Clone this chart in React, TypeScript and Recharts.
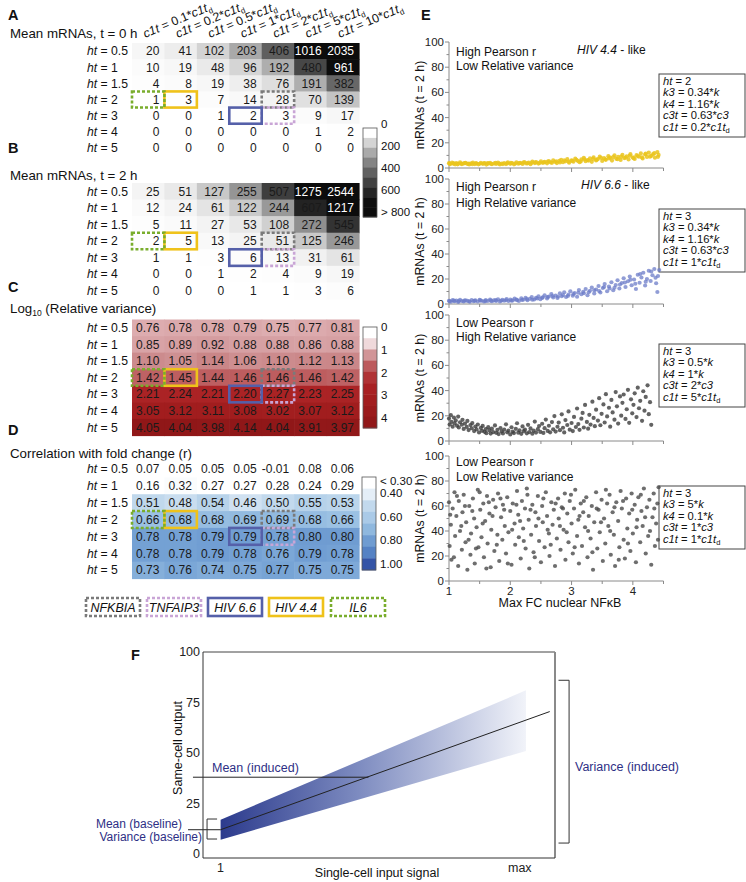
import React from 'react';
import {
  ScatterChart, Scatter, XAxis, YAxis, ComposedChart, Area, Line, ReferenceLine, Customized,
} from 'recharts';

const W = 746;
const H = 882;
const FONT = "'Liberation Sans', Arial, Helvetica, sans-serif";
const NAVY = '#2e2f85';

// ---------------- heatmap data ----------------
const columnFactors = ['0.1', '0.2', '0.5', '1', '2', '5', '10'];
const htValues = ['0.5', '1', '1.5', '2', '3', '4', '5'];

const meanMRNA_t0 = [
  [20, 41, 102, 203, 406, 1016, 2035],
  [10, 19, 48, 96, 192, 480, 961],
  [4, 8, 19, 38, 76, 191, 382],
  [1, 3, 7, 14, 28, 70, 139],
  [0, 0, 1, 2, 3, 9, 17],
  [0, 0, 0, 0, 0, 1, 2],
  [0, 0, 0, 0, 0, 0, 0],
];
const meanMRNA_t2 = [
  [25, 51, 127, 255, 507, 1275, 2544],
  [12, 24, 61, 122, 244, 607, 1217],
  [5, 11, 27, 53, 108, 272, 545],
  [2, 5, 13, 25, 51, 125, 246],
  [1, 1, 3, 6, 13, 31, 61],
  [0, 0, 1, 2, 4, 9, 19],
  [0, 0, 0, 1, 1, 3, 6],
];
const log10RelVar = [
  [0.76, 0.78, 0.78, 0.79, 0.75, 0.77, 0.81],
  [0.85, 0.89, 0.92, 0.88, 0.88, 0.86, 0.88],
  [1.10, 1.05, 1.14, 1.06, 1.10, 1.12, 1.13],
  [1.42, 1.45, 1.44, 1.46, 1.46, 1.46, 1.42],
  [2.21, 2.24, 2.21, 2.20, 2.27, 2.23, 2.25],
  [3.05, 3.12, 3.11, 3.08, 3.02, 3.07, 3.12],
  [4.05, 4.04, 3.98, 4.14, 4.04, 3.91, 3.97],
];
const corrWithFC = [
  [0.07, 0.05, 0.05, 0.05, -0.01, 0.08, 0.06],
  [0.16, 0.32, 0.27, 0.27, 0.28, 0.24, 0.29],
  [0.51, 0.48, 0.54, 0.46, 0.50, 0.55, 0.53],
  [0.66, 0.68, 0.68, 0.69, 0.69, 0.68, 0.66],
  [0.78, 0.78, 0.79, 0.79, 0.78, 0.80, 0.80],
  [0.78, 0.78, 0.79, 0.78, 0.76, 0.79, 0.78],
  [0.73, 0.76, 0.74, 0.75, 0.77, 0.75, 0.75],
];

const geneMarkers = [
  { c: 4, r: 3, gene: 'NFKBIA' },
  { c: 4, r: 4, gene: 'TNFAIP3' },
  { c: 3, r: 4, gene: 'HIV 6.6' },
  { c: 1, r: 3, gene: 'HIV 4.4' },
  { c: 0, r: 3, gene: 'IL6' },
];
const legendGenes = ['NFKBIA', 'TNFAIP3', 'HIV 6.6', 'HIV 4.4', 'IL6'];

const grayBarSegments = [0, 100, 200, 300, 400, 500, 600, 700, 800];
const grayBarTicks = [0, 200, 400, 600, 800];
const grayBarLabels = ['0', '200', '400', '600', '> 800'];
const redBarSegments = [0, 0.5, 1, 1.5, 2, 2.5, 3, 3.5, 4];
const redBarTicks = [0, 1, 2, 3, 4];
const redBarLabels = ['0', '1', '2', '3', '4'];
const blueBarSegments = [0.3, 0.4, 0.5, 0.6, 0.7, 0.8, 0.9, 1.0];
const blueBarTicks = [0.3, 0.4, 0.6, 0.8, 1.0];
const blueBarLabels = ['< 0.30', '0.40', '0.60', '0.80', '1.00'];

// ---------------- scatter data (panel E) ----------------
const hiv44Like: [number, number][] = [
  [1.00, 3.8], [1.02, 3.1], [1.05, 4.2], [1.07, 3.4], [1.10, 2.9], [1.12, 3.9], [1.15, 3.3], [1.18, 4.4], [1.21, 3.0], [1.24, 3.6],
  [1.27, 4.1], [1.30, 3.2], [1.33, 2.8], [1.36, 3.7], [1.39, 4.3], [1.42, 3.1], [1.45, 3.5], [1.48, 2.9], [1.52, 4.0], [1.55, 3.3],
  [1.58, 3.8], [1.61, 2.7], [1.64, 3.4], [1.67, 4.1], [1.70, 3.0], [1.74, 3.6], [1.77, 3.2], [1.80, 4.2], [1.83, 2.8], [1.86, 3.5],
  [1.90, 3.9], [1.93, 3.1], [1.96, 4.4], [2.00, 3.3], [2.03, 3.8], [2.06, 2.9], [2.10, 4.5], [2.13, 3.4], [2.16, 4.0], [2.20, 3.2],
  [2.23, 4.7], [2.26, 3.6], [2.30, 4.2], [2.33, 3.0], [2.36, 5.0], [2.40, 3.9], [2.43, 4.4], [2.46, 3.5], [2.50, 5.2], [2.53, 4.1],
  [2.56, 4.8], [2.60, 3.7], [2.63, 5.5], [2.66, 4.4], [2.70, 6.0], [2.73, 4.9], [2.76, 3.9], [2.80, 5.6], [2.83, 6.4], [2.86, 4.6],
  [2.90, 5.3], [2.93, 7.0], [2.96, 4.2], [3.00, 6.1], [3.03, 5.0], [3.06, 7.4], [3.10, 5.7], [3.13, 4.6], [3.16, 6.8], [3.20, 8.0],
  [3.23, 5.4], [3.26, 6.3], [3.30, 7.6], [3.33, 4.9], [3.36, 8.4], [3.40, 6.0], [3.43, 7.1], [3.46, 9.0], [3.50, 5.6], [3.53, 7.8],
  [3.56, 6.5], [3.60, 9.4], [3.63, 8.2], [3.66, 5.9], [3.70, 10.0], [3.73, 7.3], [3.76, 8.8], [3.80, 6.4], [3.83, 10.4], [3.86, 7.9],
  [3.90, 9.2], [3.93, 6.8], [3.96, 11.0], [4.00, 8.5], [4.03, 7.2], [4.06, 10.2], [4.10, 9.0], [4.13, 11.6], [4.16, 7.6], [4.20, 10.8],
  [4.23, 8.8], [4.26, 12.2], [4.30, 9.6], [4.33, 11.0], [4.36, 8.2], [4.40, 12.6], [4.42, 10.4],
  [1.01, 3.4], [1.08, 3.7], [1.14, 2.9], [1.20, 3.5], [1.26, 3.9], [1.32, 3.4], [1.38, 3.0], [1.44, 3.9], [1.50, 3.3], [1.57, 3.6],
  [1.63, 3.9], [1.69, 3.3], [1.76, 4.0], [1.82, 3.4], [1.88, 3.1], [1.95, 3.7], [2.01, 4.1], [2.08, 3.5], [2.15, 3.8], [2.21, 4.3],
  [2.28, 3.7], [2.35, 4.1], [2.41, 4.6], [2.48, 4.0], [2.55, 4.4], [2.61, 5.0], [2.68, 4.1], [2.75, 5.2], [2.81, 4.4], [2.88, 6.0],
  [2.95, 5.1], [3.01, 5.6], [3.08, 6.4], [3.15, 5.2], [3.21, 6.9], [3.28, 5.9], [3.35, 7.2], [3.41, 6.6], [3.48, 8.1], [3.55, 6.9],
  [3.61, 7.6], [3.68, 8.6], [3.75, 7.0], [3.81, 9.0], [3.88, 8.2], [3.95, 9.8], [4.01, 7.8], [4.08, 9.5], [4.15, 8.4], [4.21, 11.4],
  [4.28, 9.0], [4.35, 11.8], [4.41, 8.9],
];
const hiv66Like: [number, number][] = [
  [1.00, 2.6], [1.03, 1.9], [1.06, 3.1], [1.09, 2.2], [1.12, 2.8], [1.15, 1.7], [1.18, 3.3], [1.21, 2.4], [1.24, 2.0], [1.27, 3.0],
  [1.30, 2.5], [1.34, 1.8], [1.37, 3.2], [1.40, 2.3], [1.43, 2.9], [1.47, 2.0], [1.50, 3.4], [1.53, 2.6], [1.57, 2.1], [1.60, 3.1],
  [1.63, 2.4], [1.67, 3.6], [1.70, 2.2], [1.73, 2.9], [1.77, 2.5], [1.80, 3.8], [1.83, 2.1], [1.87, 3.3], [1.90, 2.7], [1.94, 4.0],
  [1.97, 2.4], [2.00, 3.5], [2.04, 2.9], [2.07, 4.3], [2.11, 3.1], [2.14, 2.5], [2.18, 4.6], [2.21, 3.4], [2.25, 5.0], [2.28, 3.0],
  [2.32, 4.2], [2.35, 5.6], [2.39, 3.6], [2.42, 4.9], [2.46, 6.2], [2.49, 3.9], [2.53, 5.4], [2.56, 7.0], [2.60, 4.5], [2.63, 6.0],
  [2.67, 8.0], [2.70, 5.2], [2.74, 6.8], [2.77, 4.8], [2.81, 8.6], [2.84, 6.2], [2.88, 9.4], [2.91, 5.6], [2.95, 7.6], [2.98, 10.2],
  [3.02, 6.6], [3.05, 8.8], [3.09, 5.8], [3.12, 11.2], [3.16, 7.8], [3.19, 9.8], [3.23, 12.0], [3.26, 7.0], [3.30, 10.6], [3.33, 13.2],
  [3.37, 8.4], [3.40, 11.6], [3.44, 14.4], [3.47, 9.2], [3.51, 12.8], [3.54, 16.0], [3.58, 10.2], [3.61, 14.0], [3.65, 17.4], [3.68, 11.0],
  [3.72, 15.2], [3.75, 19.0], [3.78, 12.4], [3.82, 16.8], [3.85, 20.6], [3.88, 13.6], [3.92, 18.2], [3.95, 22.0], [3.98, 15.0], [4.02, 19.6],
  [4.05, 12.0], [4.08, 23.4], [4.11, 17.0], [4.14, 21.2], [4.17, 25.0], [4.20, 14.8], [4.23, 20.0], [4.26, 26.6], [4.29, 18.4], [4.32, 23.0],
  [4.35, 28.0], [4.38, 16.6], [4.40, 9.6], [4.41, 22.4], [4.43, 27.2],
  [1.01, 2.2], [1.08, 2.7], [1.16, 2.3], [1.25, 2.7], [1.33, 2.2], [1.42, 2.6], [1.51, 2.9], [1.59, 2.3], [1.68, 2.7], [1.76, 3.1],
  [1.85, 2.6], [1.93, 3.0], [2.02, 2.6], [2.10, 3.6], [2.19, 3.2], [2.27, 4.0], [2.36, 3.4], [2.44, 4.4], [2.52, 4.8], [2.61, 5.6],
  [2.69, 6.4], [2.78, 6.0], [2.86, 7.2], [2.94, 6.4], [3.03, 8.0], [3.11, 9.0], [3.20, 8.6], [3.28, 9.4], [3.37, 11.0], [3.45, 10.4],
  [3.53, 13.6], [3.62, 12.4], [3.70, 13.0], [3.79, 15.6], [3.87, 17.2], [3.96, 19.4], [4.04, 16.2], [4.12, 24.0], [4.21, 17.8], [4.30, 26.0],
  [4.37, 21.0],
];
const lowRHighVar: [number, number][] = [
  [1.00, 17.8], [1.01, 13.0], [1.03, 20.5], [1.04, 15.2], [1.06, 11.4], [1.08, 18.6], [1.09, 14.0], [1.11, 16.3], [1.13, 12.2], [1.15, 19.4],
  [1.16, 10.8], [1.18, 14.9], [1.21, 12.9], [1.22, 16.8], [1.24, 9.6], [1.26, 13.8], [1.29, 11.2], [1.30, 15.9], [1.32, 8.7], [1.35, 12.6],
  [1.37, 10.1], [1.38, 14.2], [1.41, 7.9], [1.43, 11.5], [1.45, 9.2], [1.47, 13.1], [1.49, 6.8], [1.52, 10.4], [1.54, 8.1], [1.55, 12.0],
  [1.58, 7.3], [1.60, 9.5], [1.61, 6.2], [1.64, 11.0], [1.66, 8.4], [1.68, 5.9], [1.70, 9.8], [1.72, 7.0], [1.75, 12.4], [1.77, 6.5],
  [1.79, 8.8], [1.81, 5.5], [1.84, 10.3], [1.86, 7.6], [1.88, 6.0], [1.90, 9.1], [1.93, 13.2], [1.95, 6.9], [1.97, 8.2], [2.00, 5.2],
  [2.02, 10.9], [2.04, 7.4], [2.06, 6.3], [2.09, 9.7], [2.11, 14.1], [2.13, 6.6], [2.15, 8.5], [2.18, 5.7], [2.20, 11.6], [2.22, 7.8],
  [2.24, 9.0], [2.27, 6.1], [2.29, 12.8], [2.31, 7.1], [2.33, 10.0], [2.36, 5.8], [2.38, 8.3], [2.40, 15.4], [2.42, 6.7], [2.45, 9.4],
  [2.47, 11.9], [2.49, 7.2], [2.52, 13.7], [2.54, 6.4], [2.56, 10.2], [2.58, 17.0], [2.61, 8.0], [2.63, 12.1], [2.65, 6.9], [2.68, 15.0],
  [2.70, 9.3], [2.72, 19.8], [2.74, 7.5], [2.77, 11.3], [2.79, 14.6], [2.81, 8.6], [2.84, 21.2], [2.86, 10.5], [2.88, 6.8], [2.90, 16.6],
  [2.93, 12.7], [2.95, 23.5], [2.97, 9.0], [3.00, 14.3], [3.02, 7.9], [3.04, 19.1], [3.07, 11.1], [3.09, 25.8], [3.11, 13.4], [3.13, 8.9],
  [3.16, 17.7], [3.18, 22.3], [3.20, 10.7], [3.22, 28.6], [3.25, 15.1], [3.27, 9.8], [3.29, 20.8], [3.31, 13.0], [3.34, 31.2], [3.36, 18.3],
  [3.38, 11.8], [3.40, 24.9], [3.43, 16.2], [3.45, 34.0], [3.47, 12.5], [3.49, 21.6], [3.52, 29.0], [3.54, 14.7], [3.56, 37.2], [3.58, 19.5],
  [3.61, 26.4], [3.63, 11.4], [3.65, 32.6], [3.67, 22.7], [3.70, 16.9], [3.72, 38.8], [3.74, 27.5], [3.76, 13.8], [3.79, 35.4], [3.81, 20.1],
  [3.83, 30.3], [3.85, 36.9], [3.88, 17.5], [3.90, 25.2], [3.92, 40.6], [3.94, 14.4], [3.97, 33.1], [3.99, 22.0], [4.01, 28.7], [4.03, 37.8],
  [4.06, 19.0], [4.08, 42.3], [4.10, 26.0], [4.12, 31.9], [4.15, 16.0], [4.17, 39.5], [4.19, 24.1], [4.21, 35.0], [4.24, 44.2], [4.26, 21.3],
  [4.28, 30.8], [4.30, 12.8],
];
const lowRLowVar: [number, number][] = [
  [1.00, 63], [1.01, 28], [1.03, 45], [1.04, 17], [1.06, 58], [1.09, 71], [1.10, 36], [1.12, 52], [1.15, 12], [1.16, 64],
  [1.18, 40], [1.21, 25], [1.22, 55], [1.24, 69], [1.27, 31], [1.28, 47], [1.30, 9], [1.33, 60], [1.35, 21], [1.36, 38],
  [1.39, 66], [1.41, 50], [1.42, 14], [1.45, 43], [1.47, 73], [1.48, 27], [1.51, 57], [1.53, 35], [1.56, 62], [1.57, 19],
  [1.59, 48], [1.62, 68], [1.63, 30], [1.66, 54], [1.68, 11], [1.69, 41], [1.72, 65], [1.74, 24], [1.76, 59], [1.79, 37],
  [1.80, 70], [1.82, 16], [1.85, 51], [1.87, 33], [1.88, 61], [1.91, 44], [1.93, 22], [1.95, 67], [1.97, 39], [2.00, 56],
  [2.02, 13], [2.04, 62], [2.07, 46], [2.08, 29], [2.11, 72], [2.13, 53], [2.14, 35], [2.17, 18], [2.19, 64], [2.21, 42],
  [2.24, 58], [2.25, 26], [2.28, 69], [2.30, 49], [2.31, 10], [2.34, 37], [2.36, 61], [2.38, 23], [2.41, 55], [2.42, 44],
  [2.45, 68], [2.47, 32], [2.50, 15], [2.52, 60], [2.53, 47], [2.56, 27], [2.58, 71], [2.60, 52], [2.63, 38], [2.64, 20],
  [2.67, 63], [2.69, 45], [2.71, 57], [2.73, 12], [2.76, 34], [2.78, 66], [2.79, 50], [2.82, 25], [2.84, 59], [2.87, 41],
  [2.89, 70], [2.90, 17], [2.93, 54], [2.95, 31], [2.97, 64], [3.00, 46], [3.02, 22], [3.04, 58], [3.06, 73], [3.09, 36],
  [3.11, 49], [3.12, 14], [3.15, 62], [3.17, 28], [3.19, 55], [3.22, 43], [3.24, 67], [3.26, 19], [3.28, 52], [3.31, 34],
  [3.33, 60], [3.35, 9], [3.37, 47], [3.40, 71], [3.42, 26], [3.44, 57], [3.46, 39], [3.49, 65], [3.51, 16], [3.53, 50],
  [3.55, 30], [3.58, 62], [3.60, 44], [3.62, 69], [3.64, 21], [3.67, 55], [3.69, 37], [3.71, 12], [3.73, 63], [3.76, 48],
  [3.78, 27], [3.80, 72], [3.82, 58], [3.85, 33], [3.87, 18], [3.89, 66], [3.91, 42], [3.94, 54], [3.96, 24], [3.98, 70],
  [4.00, 38], [4.03, 61], [4.05, 15], [4.07, 49], [4.09, 67], [4.12, 31], [4.14, 56], [4.16, 44], [4.18, 74], [4.21, 22],
  [4.23, 59], [4.25, 36], [4.27, 65], [4.30, 13], [4.32, 51], [4.34, 70], [4.36, 28], [4.38, 46], [4.40, 62], [4.42, 75],
  [1.02, 53], [1.08, 19], [1.13, 68], [1.20, 44], [1.26, 60], [1.32, 33], [1.38, 56], [1.44, 26], [1.50, 71], [1.55, 46],
  [1.61, 10], [1.65, 63], [1.71, 52], [1.78, 29], [1.84, 66], [1.90, 57], [1.96, 14], [2.03, 41], [2.10, 61], [2.16, 48],
  [2.22, 32], [2.27, 74], [2.33, 57], [2.40, 19], [2.46, 50], [2.54, 66], [2.61, 41], [2.66, 29], [2.74, 62], [2.81, 44],
  [2.86, 58], [2.92, 39], [2.99, 69], [3.05, 27], [3.13, 52], [3.20, 64], [3.27, 40], [3.34, 23], [3.41, 58], [3.48, 47],
  [3.56, 73], [3.63, 40], [3.70, 59], [3.77, 17], [3.84, 64], [3.92, 30], [3.99, 57], [4.06, 43], [4.13, 69], [4.20, 51],
  [4.28, 40], [4.35, 58], [4.41, 33],
];

const eXTicks = [1, 1.5, 2, 2.5, 3, 3.5, 4, 4.5];
const eYTicks = [0, 10, 20, 30, 40, 50, 60, 70, 80, 90, 100];

const scatterTitles = [
  ['High Pearson r', 'Low Relative variance'],
  ['High Pearson r', 'High Relative variance'],
  ['Low Pearson r', 'High Relative variance'],
  ['Low Pearson r', 'Low Relative variance'],
];
const scatterTags = ['HIV 4.4', 'HIV 6.6', '', ''];
const paramSets = [
  { ht: '2', k3: '0.34', k4: '1.16', c3t: '0.63', c1t: '0.2' },
  { ht: '3', k3: '0.34', k4: '1.16', c3t: '0.63', c1t: '1' },
  { ht: '3', k3: '0.5', k4: '1', c3t: '2', c1t: '5' },
  { ht: '3', k3: '5', k4: '0.1', c3t: '1', c1t: '1' },
];

// ---------------- schematic (panel F) ----------------
const fData = [
  { x: 1, band: [7, 17], y: 12 },
  { x: 18.35, band: [51, 81] },
  { x: 19.7, y: 70.5 },
];
const fXTicks = [1, 18];
const fXLabels = ['1', 'max'];
const fYTicks = [0, 25, 50, 75, 100];
const meanInduced = 38;
const meanBaseline = 12;

// ---------------- styles ----------------
const GENE_STYLE: Record<string, { color: string; dash?: string }> = {
  NFKBIA: { color: '#7a7a7a', dash: '3 2' },
  TNFAIP3: { color: '#c9a5d6', dash: '3 2' },
  'HIV 6.6': { color: '#5560a9' },
  'HIV 4.4': { color: '#efc21a' },
  IL6: { color: '#79ad2c', dash: '3 2' },
};

function hexToRgb(h: string) {
  const n = parseInt(h.slice(1), 16);
  return [(n >> 16) & 255, (n >> 8) & 255, n & 255];
}
function interp(stops: [number, string][], v: number) {
  if (v <= stops[0][0]) return stops[0][1];
  for (let i = 1; i < stops.length; i++) {
    if (v <= stops[i][0]) {
      const [v0, c0] = stops[i - 1];
      const [v1, c1] = stops[i];
      const t = (v - v0) / (v1 - v0);
      const a = hexToRgb(c0);
      const b = hexToRgb(c1);
      return `rgb(${a.map((x, k) => Math.round(x + (b[k] - x) * t)).join(',')})`;
    }
  }
  return stops[stops.length - 1][1];
}
const grayFill = (v: number) => {
  if (v >= 800) return '#0c0c0c';
  const g = Math.round(255 * Math.pow(1 - v / 800, 1.4));
  return `rgb(${g},${g},${g})`;
};
const RED_STOPS: [number, string][] = [
  [0, '#ffffff'], [0.5, '#efd9db'], [0.77, '#dcaaad'], [0.9, '#d59ea1'], [1.1, '#cc8b8d'],
  [1.45, '#bd5e60'], [2.2, '#ab2325'], [3.1, '#a11d1e'], [4.1, '#8f1718'],
];
const BLUE_STOPS: [number, string][] = [
  [0.3, '#ffffff'], [0.4, '#e4eef7'], [0.5, '#c2d9ed'], [0.67, '#99c0e2'], [0.78, '#74a1d4'],
  [0.9, '#5582c4'], [1.0, '#3454a6'],
];
const redFill = (v: number) => interp(RED_STOPS, v);
const blueFill = (v: number) => interp(BLUE_STOPS, v);

// ---------------- shared pieces ----------------
const HM_LEFT = 132;
const HM_RIGHT = 359;
const ROWS = [0, 1, 2, 3, 4, 5, 6];

const rowTick = (p: any) => (
  <text x={87} y={p.y + 4.3} fontSize={12.2} fill="#111" style={{ whiteSpace: 'pre' }}>
    <tspan fontStyle="italic">ht</tspan>{` = ${htValues[p.payload.value]}`}
  </text>
);
const headerTick = (p: any) => (
  <text transform={`translate(${p.x - 3},38) rotate(-23)`} fontSize={12.3} fill="#111" style={{ whiteSpace: 'pre' }}>
    <tspan fontStyle="italic">c1t</tspan>{` = ${columnFactors[p.payload.value]}*`}
    <tspan fontStyle="italic">c1t</tspan>
    <tspan fontSize={8} dy={3}>d</tspan>
  </text>
);

function ColorBar({ x, top, bottom, segs, color, ticks, labels, v0, y0, v1, y1 }: any) {
  const h = (bottom - top) / segs.length;
  return (
    <g>
      {segs.map((v: number, i: number) => (
        <rect key={i} x={x} y={top + i * h} width={14} height={h + 0.4} fill={color(v)} />
      ))}
      <rect x={x} y={top} width={14} height={bottom - top} fill="none" stroke="#555" strokeWidth={0.8} />
      {ticks.map((v: number, i: number) => (
        <text key={i} x={x + 18} y={y0 + ((v - v0) / (v1 - v0)) * (y1 - y0) + 4} fontSize={11.5} fill="#111">
          {labels[i]}
        </text>
      ))}
    </g>
  );
}

function Heatmap({ values, top, bottom, fill, fmt, ink, headers, overlay }: any) {
  const cw = (HM_RIGHT - HM_LEFT) / 7;
  const ch = (bottom - top) / 7;
  const cells = values.flatMap((row: number[], r: number) => row.map((v, c) => ({ c, r, v })));
  const cellShape = (p: any) => {
    const { cx, cy, payload } = p;
    return (
      <g>
        <rect x={cx - cw / 2} y={cy - ch / 2} width={cw + 0.6} height={ch + 0.6} fill={fill(payload.v)} />
        <text x={cx + cw / 2 - 5} y={cy + 4.3} textAnchor="end" fontSize={12} fill={ink(payload.v)}>
          {fmt(payload.v)}
        </text>
      </g>
    );
  };
  const markerShape = (p: any) => {
    const s = GENE_STYLE[p.payload.gene];
    return (
      <rect x={p.cx - cw / 2} y={p.cy - ch / 2} width={cw} height={ch} fill="none"
        stroke={s.color} strokeWidth={2.6} strokeDasharray={s.dash} />
    );
  };
  return (
    <div style={{ position: 'absolute', left: 0, top: 0 }}>
      <ScatterChart width={W} height={H}
        margin={{ top: headers ? 0 : top, left: 0, right: W - HM_RIGHT, bottom: H - bottom }}>
        <XAxis type="number" dataKey="c" domain={[-0.5, 6.5]} ticks={ROWS} orientation="top"
          hide={!headers} height={headers ? top : 0} axisLine={false} tickLine={false}
          tick={headerTick} interval={0} />
        <YAxis type="number" dataKey="r" domain={[-0.5, 6.5]} ticks={ROWS} reversed width={HM_LEFT}
          axisLine={false} tickLine={false} tick={rowTick} interval={0} />
        <Scatter data={cells} shape={cellShape} isAnimationActive={false} />
        <Scatter data={geneMarkers} shape={markerShape} isAnimationActive={false} />
        <Customized component={overlay} />
      </ScatterChart>
    </div>
  );
}

const PanelLetter = ({ x, y, t }: any) => (
  <text x={x} y={y} fontSize={14.5} fontWeight="bold" fill="#111">{t}</text>
);

const OverlayA = () => (
  <g>
    <PanelLetter x={8} y={20} t="A" />
    <text x={10} y={38} fontSize={13.3} fill="#111">Mean mRNAs, t = 0 h</text>
    <ColorBar x={363} top={128} bottom={217} segs={grayBarSegments} color={grayFill}
      ticks={grayBarTicks} labels={grayBarLabels} v0={0} y0={124} v1={800} y1={212} />
  </g>
);
const OverlayB = () => (
  <g>
    <PanelLetter x={8} y={153} t="B" />
    <text x={10} y={180} fontSize={13.3} fill="#111">Mean mRNAs, t = 2 h</text>
  </g>
);
const OverlayC = () => (
  <g>
    <PanelLetter x={8} y={292} t="C" />
    <text x={10} y={313} fontSize={13.3} fill="#111">
      Log<tspan fontSize={8.5} dy={3}>10</tspan><tspan dy={-3}> (Relative variance)</tspan>
    </text>
    <ColorBar x={363} top={327} bottom={428} segs={redBarSegments} color={redFill}
      ticks={redBarTicks} labels={redBarLabels} v0={0} y0={327} v1={4} y1={418} />
  </g>
);
const legendX = [86, 147, 208, 269, 331];
const OverlayD = () => (
  <g>
    <PanelLetter x={8} y={435} t="D" />
    <text x={10} y={458} fontSize={13.3} fill="#111">Correlation with fold change (r)</text>
    <ColorBar x={362} top={477} bottom={570} segs={blueBarSegments} color={blueFill}
      ticks={blueBarTicks} labels={blueBarLabels} v0={0.3} y0={481} v1={1.0} y1={564} />
    {legendGenes.map((g, i) => {
      const s = GENE_STYLE[g];
      return (
        <g key={g}>
          <rect x={legendX[i]} y={598} width={54} height={18} fill="#fff" stroke={s.color}
            strokeWidth={2.6} strokeDasharray={s.dash} />
          <text x={legendX[i] + 27} y={611.5} textAnchor="middle" fontSize={12.5} fontStyle="italic" fill="#111">{g}</text>
        </g>
      );
    })}
  </g>
);

// ---------------- panel E ----------------
const E_LEFT = 449;
const E_RIGHT = 663.5;
const E_PLOTS = [
  { top: 42, bottom: 168, t1: 56, t2: 70, tagX: 577, tagY: 54 },
  { top: 179, bottom: 304, t1: 191, t2: 207, tagX: 581, tagY: 189 },
  { top: 315, bottom: 441, t1: 327, t2: 341, tagX: 0, tagY: 0 },
  { top: 456, bottom: 581, t1: 466, t2: 481, tagX: 0, tagY: 0 },
];
const E_BOXES = [74, 209, 344, 486];

const eYTick = (p: any) => {
  const v = p.payload.value;
  const major = v % 20 === 0;
  return (
    <g>
      <line x1={E_LEFT - (major ? 4 : 2.5)} x2={E_LEFT} y1={p.y} y2={p.y} stroke="#8a8a8a" />
      {major && (
        <text x={E_LEFT - 5} y={p.y + 4} textAnchor="end" fontSize={11.5} fill="#222">{v}</text>
      )}
    </g>
  );
};
const makeEXTick = (bottom: number, labels: boolean) => (p: any) => {
  const v = p.payload.value;
  const major = Number.isInteger(v);
  return (
    <g>
      <line x1={p.x} x2={p.x} y1={bottom} y2={bottom + (major ? 4 : 3)} stroke="#8a8a8a" />
      {labels && major && (
        <text x={p.x} y={bottom + 14} textAnchor="middle" fontSize={11.5} fill="#222">{v}</text>
      )}
    </g>
  );
};
const dotShape = (color: string, op: number) => (p: any) => (
  <circle cx={p.cx} cy={p.cy} r={2.1} fill={color} fillOpacity={op} />
);

function ParamBox({ top, ps }: any) {
  const x = 663;
  const l = (i: number) => top + 10.6 + i * 11.6;
  return (
    <g fontSize={11.2} fill="#111" style={{ whiteSpace: 'pre' }}>
      <rect x={659} y={top} width={86} height={63} fill="#fff" stroke="#444" strokeWidth={1} />
      <text x={x} y={l(0)}><tspan fontStyle="italic">ht</tspan>{` = ${ps.ht}`}</text>
      <text x={x} y={l(1)}><tspan fontStyle="italic">k3</tspan>{` = ${ps.k3}*`}<tspan fontStyle="italic">k</tspan></text>
      <text x={x} y={l(2)}><tspan fontStyle="italic">k4</tspan>{` = ${ps.k4}*`}<tspan fontStyle="italic">k</tspan></text>
      <text x={x} y={l(3)}><tspan fontStyle="italic">c3t</tspan>{` = ${ps.c3t}*`}<tspan fontStyle="italic">c3</tspan></text>
      <text x={x} y={l(4)}><tspan fontStyle="italic">c1t</tspan>{` = ${ps.c1t}*`}<tspan fontStyle="italic">c1t</tspan><tspan fontSize={7.5} dy={2}>d</tspan></text>
    </g>
  );
}

function ScatterPanel({ idx, pts, color, op }: any) {
  const pl = E_PLOTS[idx];
  const data = pts.map(([x, y]: [number, number]) => ({ x, y }));
  const last = idx === 3;
  const Overlay = () => (
    <g>
      {idx === 0 && <PanelLetter x={421} y={20} t="E" />}
      <text transform={`translate(424,${(pl.top + pl.bottom) / 2}) rotate(-90)`} textAnchor="middle" fontSize={12.3} fill="#111">
        mRNAs (t = 2 h)
      </text>
      <text x={456} y={pl.t1} fontSize={12} fill="#111">{scatterTitles[idx][0]}</text>
      <text x={456} y={pl.t2} fontSize={12} fill="#111">{scatterTitles[idx][1]}</text>
      {scatterTags[idx] && (
        <text x={pl.tagX} y={pl.tagY} fontSize={12} fill="#111" style={{ whiteSpace: 'pre' }}>
          <tspan fontStyle="italic">{scatterTags[idx]}</tspan>{' - like'}
        </text>
      )}
      <ParamBox top={E_BOXES[idx]} ps={paramSets[idx]} />
      {last && (
        <text x={560} y={607} textAnchor="middle" fontSize={12.5} fill="#111">Max FC nuclear NFκB</text>
      )}
    </g>
  );
  return (
    <div style={{ position: 'absolute', left: 0, top: 0 }}>
      <ScatterChart width={W} height={H}
        margin={{ top: pl.top, left: E_LEFT - 30, right: W - E_RIGHT, bottom: H - pl.bottom - 20 }}>
        <XAxis type="number" dataKey="x" domain={[1, 4.5]} ticks={eXTicks} height={20}
          axisLine={{ stroke: '#8a8a8a' }} tickLine={false} tick={makeEXTick(pl.bottom, last)} interval={0} />
        <YAxis type="number" dataKey="y" domain={[0, 100]} ticks={eYTicks} width={30}
          axisLine={{ stroke: '#8a8a8a' }} tickLine={false} tick={eYTick} interval={0} />
        <Scatter data={data} shape={dotShape(color, op)} isAnimationActive={false} />
        <Customized component={Overlay} />
      </ScatterChart>
    </div>
  );
}

// ---------------- panel F ----------------
const F_LEFT = 203;
const F_RIGHT = 555;
const F_TOP = 652;
const F_BOTTOM = 858;

const fYTick = (p: any) => (
  <text x={F_LEFT - 3} y={p.y + 4.2} textAnchor="end" fontSize={12.5} fill="#222">{p.payload.value}</text>
);
const fXTick = (p: any) => (
  <text x={p.x} y={872} textAnchor="middle" fontSize={12.5} fill="#222">
    {fXLabels[fXTicks.indexOf(p.payload.value)]}
  </text>
);

const OverlayF = () => (
  <g>
    <PanelLetter x={131} y={660} t="F" />
    <line x1={F_LEFT} x2={F_RIGHT} y1={F_TOP} y2={F_TOP} stroke="#444" strokeWidth={1} />
    <line x1={F_RIGHT} x2={F_RIGHT} y1={F_TOP} y2={F_BOTTOM} stroke="#8a8a8a" strokeWidth={2} />
    <text x={212} y={772} fontSize={12.5} fill={NAVY}>Mean (induced)</text>
    <text transform="translate(424,748) rotate(-21)" textAnchor="middle" fontSize={12.5} fill={NAVY}>Slope and Correlation</text>
    <text x={182} y={828} textAnchor="end" fontSize={12} fill={NAVY}>Mean (baseline)</text>
    <text x={202} y={841} textAnchor="end" fontSize={12} fill={NAVY}>Variance (baseline)</text>
    <text x={575} y={771} fontSize={12.5} fill={NAVY}>Variance (induced)</text>
    <text transform="translate(182,748) rotate(-90)" textAnchor="middle" fontSize={12.5} fill="#111">Same-cell output</text>
    <text x={377} y={877} textAnchor="middle" fontSize={12.5} fill="#111">Single-cell input signal</text>
  </g>
);

const leftBracket = [
  [{ x: 0.8, y: 17.3 }, { x: 0.23, y: 17.3 }],
  [{ x: 0.23, y: 17.3 }, { x: 0.23, y: 7.4 }],
  [{ x: 0.23, y: 7.4 }, { x: 0.8, y: 7.4 }],
];
const rightBracket = [
  [{ x: 20.2, y: 86 }, { x: 20.8, y: 86 }],
  [{ x: 20.8, y: 86 }, { x: 20.8, y: 5.4 }],
  [{ x: 20.2, y: 5.4 }, { x: 20.8, y: 5.4 }],
];

function PanelF() {
  return (
    <div style={{ position: 'absolute', left: 0, top: 0 }}>
      <ComposedChart width={W} height={H} data={fData}
        margin={{ top: F_TOP, left: F_LEFT - 40, right: W - F_RIGHT, bottom: H - F_BOTTOM - 24 }}>
        <defs>
          <linearGradient id="fBand" x1="0" y1="0" x2="1" y2="0">
            <stop offset="0" stopColor="#2c3b8d" />
            <stop offset="0.45" stopColor="#7d8bc0" />
            <stop offset="1" stopColor="#f1f3f9" />
          </linearGradient>
        </defs>
        <XAxis type="number" dataKey="x" domain={[0, 20]} ticks={fXTicks} height={24}
          axisLine={{ stroke: '#333' }} tickLine={false} tick={fXTick} interval={0} allowDataOverflow />
        <YAxis type="number" domain={[-2, 100]} ticks={fYTicks} width={40}
          axisLine={{ stroke: '#333' }} tickLine={false} tick={fYTick} interval={0} allowDataOverflow />
        <Area dataKey="band" type="linear" stroke="none" fill="url(#fBand)" fillOpacity={1}
          isAnimationActive={false} />
        <Line dataKey="y" type="linear" stroke="#222" strokeWidth={1} dot={false} connectNulls
          isAnimationActive={false} />
        <ReferenceLine segment={[{ x: -0.57, y: meanInduced }, { x: 9.4, y: meanInduced }]}
          stroke="#222" strokeWidth={1} ifOverflow="visible" />
        <ReferenceLine segment={[{ x: -0.85, y: meanBaseline }, { x: 1, y: meanBaseline }]}
          stroke="#222" strokeWidth={1} ifOverflow="visible" />
        {leftBracket.map((s, i) => (
          <ReferenceLine key={`l${i}`} segment={s} stroke="#333" strokeWidth={1} ifOverflow="visible" />
        ))}
        {rightBracket.map((s, i) => (
          <ReferenceLine key={`r${i}`} segment={s} stroke="#333" strokeWidth={1} ifOverflow="visible" />
        ))}
        <Customized component={OverlayF} />
      </ComposedChart>
    </div>
  );
}

const blackInk = () => '#1a1a1a';

export default function App() {
  return (
    <div style={{ position: 'absolute', left: 0, top: 0, width: W, height: H, background: '#fff', fontFamily: FONT, overflow: 'hidden' }}>
      <Heatmap values={meanMRNA_t0} top={43} bottom={156} fill={grayFill} headers
        fmt={(v: number) => String(v)} ink={(v: number) => (v >= 800 ? '#fff' : '#1a1a1a')} overlay={OverlayA} />
      <Heatmap values={meanMRNA_t2} top={183} bottom={299} fill={grayFill}
        fmt={(v: number) => String(v)} ink={(v: number) => (v >= 800 ? '#fff' : '#1a1a1a')} overlay={OverlayB} />
      <Heatmap values={log10RelVar} top={319.5} bottom={435.5} fill={redFill}
        fmt={(v: number) => v.toFixed(2)} ink={blackInk} overlay={OverlayC} />
      <Heatmap values={corrWithFC} top={460.5} bottom={578.5} fill={blueFill}
        fmt={(v: number) => v.toFixed(2)} ink={blackInk} overlay={OverlayD} />
      <ScatterPanel idx={0} pts={hiv44Like} color="#eac41c" op={0.85} />
      <ScatterPanel idx={1} pts={hiv66Like} color="#6c7cc8" op={0.75} />
      <ScatterPanel idx={2} pts={lowRHighVar} color="#3c3c3c" op={0.8} />
      <ScatterPanel idx={3} pts={lowRLowVar} color="#4a4a4a" op={0.8} />
      <PanelF />
    </div>
  );
}
